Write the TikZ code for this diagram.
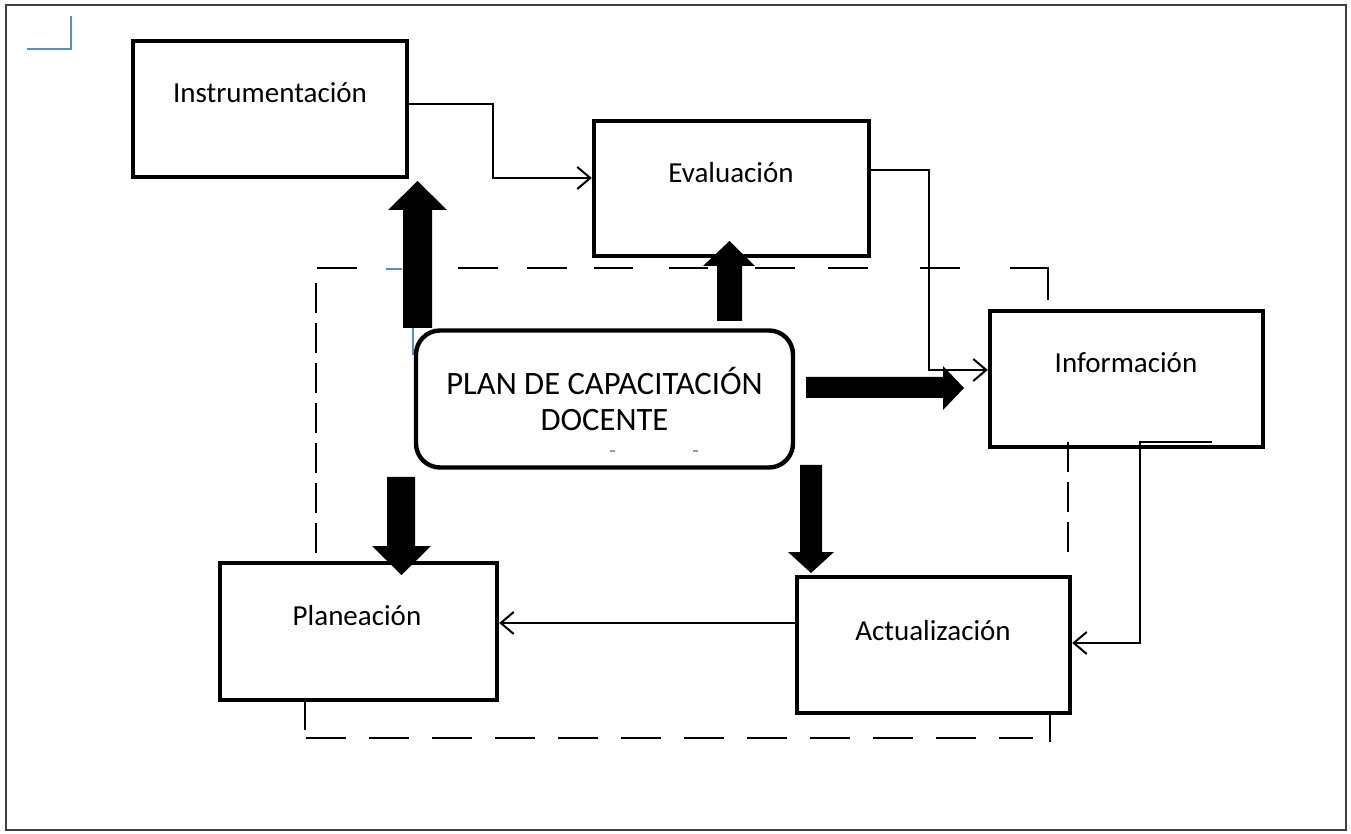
\documentclass[tikz,border=0pt]{standalone}
\usepackage{fontspec}
\setmainfont{Carlito}
\usetikzlibrary{arrows.meta,calc}
\definecolor{markblue}{RGB}{84,141,212}
\begin{document}
\begin{tikzpicture}[x=0.5pt,y=-0.5pt,
  box/.style={draw, line width=2.2pt, minimum width=137pt, minimum height=68pt, inner sep=0pt},
  lbl/.style={anchor=base, inner sep=0pt, font=\fontsize{14.5}{17}\selectfont},
  planbox/.style={draw, line width=2.2pt, rounded corners=12pt, minimum width=188.5pt, minimum height=68.5pt, align=center, font=\fontsize{16.3}{17.8}\selectfont},
  conn/.style={line width=1pt, -{Straight Barb[length=6.5pt,width=11pt,line width=1pt]}},
  dashv/.style={line width=0.8pt, dash pattern=on 15pt off 5pt},
  dashh/.style={line width=0.8pt, dash pattern=on 20pt off 11.5pt},
  seg/.style={line width=0.8pt},
  bluemark/.style={draw=markblue, line width=1pt},
  block/.style={fill=black}
]
\useasboundingbox (0,0) rectangle (1351,834);
\draw[line width=1pt, black!75] (6,5) rectangle (1346,830);

% blue corner mark
\draw[bluemark] (27,49) -- (70,49);
\draw[bluemark] (71,16) -- (71,50);

% dashed frame pieces
\foreach \a/\b in {317/357,458/498,527/567,594/633,669/708,755/795,828/868,920/960}
  \draw[seg] (\a,268) -- (\b,268);
\draw[seg] (1010,268) -- (1048,268) -- (1048,300);
\draw[dashv] (316,283) -- (316,555);
\draw[dashv] (1068,442) -- (1068,555);
\draw[dashh] (306,738) -- (1033,738);
\draw[seg] (305,700) -- (305,730);
\draw[seg] (1050,713) -- (1050,742);
\draw[bluemark] (386,269) -- (402,269);
\draw[bluemark] (413,328) -- (413,355);

% boxes
\node[box] (instr) at (270,109) {};
\node[lbl] (instrt) at (270,103) {Instrumentación};
\node[box, minimum width=137.5pt, minimum height=67.5pt] (eval) at (731.5,188.5) {};
\node[lbl] (evalt) at (731,183) {Evaluación};
\node[box, minimum width=136.5pt] (info) at (1126.5,379) {};
\node[lbl] (infot) at (1126,373) {Información};
\node[box, minimum width=138.5pt, minimum height=68.5pt] (pla) at (358.5,631.5) {};
\node[lbl] (plat) at (357,625) {Planeación};
\node[box, minimum width=136.5pt] (act) at (933.5,645) {};
\node[lbl] (actt) at (933,640) {Actualización};

\node[planbox] (plan) at (604.5,399) {PLAN DE CAPACITACIÓN\\DOCENTE};
\draw[line width=0.6pt, black!40] (610,451) -- (615,451);
\draw[line width=0.6pt, black!40] (693,451) -- (698,451);

% thin connectors
\coordinate (k1) at (493,178);
\draw[conn] ($(instr.east)+(0,-5)$) -| (k1) -- (k1 -| eval.west);
\coordinate (k2) at (929,370);
\draw[conn] ($(eval.east)+(0,-18.5)$) -| (k2) -- (k2 -| info.west);
\coordinate (k3a) at (1212,442);
\coordinate (k3b) at (1140,643);
\draw[conn] (k3a) -| (k3b) -- (k3b -| act.east);
\coordinate (k4) at ($(act.west)+(0,-22)$);
\draw[conn] (k4) -- (k4 -| pla.east);

% block arrows
\fill[block] (403,328) -- (403,210) -- (388,210) -- (417.5,181) -- (447,210) -- (432,210) -- (432,328) -- cycle;
\fill[block] (717,321) -- (717,266) -- (703,266) -- (729.5,241) -- (755,266) -- (742,266) -- (742,321) -- cycle;
\fill[block] (806,377) -- (943,377) -- (943,366) -- (964,388) -- (943,410) -- (943,398) -- (806,398) -- cycle;
\fill[block] (387,477) -- (387,546) -- (372,546) -- (401.5,575) -- (431,546) -- (415,546) -- (415,477) -- cycle;
\fill[block] (800,465) -- (800,552) -- (788,552) -- (811,573) -- (834,552) -- (822,552) -- (822,465) -- cycle;
\end{tikzpicture}
\end{document}
